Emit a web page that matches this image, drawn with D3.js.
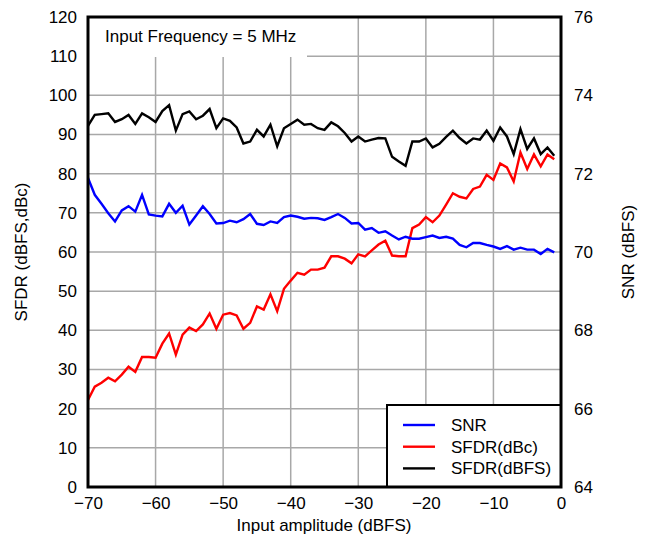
<!DOCTYPE html>
<html>
<head>
<meta charset="utf-8">
<script src="https://cdn.jsdelivr.net/npm/d3@7/dist/d3.min.js"></script>
<style>
  html, body { margin: 0; padding: 0; background: #fff; }
  svg { display: block; font-family: "Liberation Sans", Arial, sans-serif; }
</style>
</head>
<body>
<svg id="chart" width="647" height="542"></svg>
<script>
// Input amplitude (dBFS), -70 .. -1
const amplitude = d3.range(-70, 0);

const snr = [71.89, 71.46, 71.23, 70.99, 70.78, 71.06, 71.17, 71.03, 71.46, 70.96,
             70.93, 70.91, 71.23, 71.00, 71.18, 70.70, 70.93, 71.17, 70.97, 70.73,
             70.74, 70.80, 70.76, 70.84, 70.97, 70.72, 70.69, 70.78, 70.74, 70.89,
             70.93, 70.90, 70.85, 70.87, 70.86, 70.82, 70.89, 70.97, 70.87, 70.73,
             70.74, 70.57, 70.61, 70.49, 70.53, 70.42, 70.32, 70.39, 70.34, 70.34,
             70.38, 70.42, 70.36, 70.39, 70.34, 70.18, 70.12, 70.23, 70.23, 70.18,
             70.14, 70.08, 70.15, 70.06, 70.11, 70.06, 70.06, 69.95, 70.08, 69.99];

const sfdrDbc = [22.2, 25.6, 26.6, 27.9, 27.0, 28.7, 30.7, 29.4, 33.2, 33.2,
                 33.0, 36.6, 39.2, 33.8, 38.9, 40.7, 39.8, 41.5, 44.3, 40.4,
                 44.0, 44.4, 43.8, 40.4, 41.9, 46.1, 45.3, 49.2, 44.9, 50.6,
                 52.7, 54.7, 54.2, 55.5, 55.5, 56.0, 58.9, 58.9, 58.3, 57.1,
                 59.4, 58.9, 60.4, 61.9, 62.9, 59.1, 58.9, 58.9, 66.1, 67.0,
                 68.9, 67.6, 69.3, 72.1, 75.0, 74.1, 73.7, 76.1, 76.7, 79.7,
                 78.4, 82.6, 81.6, 78.0, 85.4, 81.2, 84.9, 81.9, 84.9, 83.7];

const sfdrDbfs = [92.2, 95.0, 95.2, 95.4, 93.2, 93.9, 95.0, 92.7, 95.4, 94.4,
                  93.2, 96.0, 97.5, 91.0, 95.2, 95.9, 93.9, 94.8, 96.5, 91.6,
                  94.1, 93.5, 91.8, 87.7, 88.2, 91.2, 89.5, 92.5, 87.0, 91.6,
                  92.7, 93.8, 92.5, 92.7, 91.6, 91.2, 93.1, 92.1, 90.4, 88.2,
                  89.5, 88.2, 88.7, 89.1, 89.0, 84.3, 83.1, 82.0, 88.2, 88.2,
                  89.0, 86.7, 87.6, 89.4, 91.0, 89.1, 87.7, 89.0, 88.7, 91.0,
                  88.4, 91.8, 89.5, 85.0, 91.4, 86.3, 89.0, 85.0, 86.7, 84.6];

const xTicks = [-70, -60, -50, -40, -30, -20, -10, 0];
const leftTicks = [0, 10, 20, 30, 40, 50, 60, 70, 80, 90, 100, 110, 120];
const rightTicks = [64, 66, 68, 70, 72, 74, 76];

const seriesNames = ["SNR", "SFDR(dBc)", "SFDR(dBFS)"];
const seriesColors = ["#0000ff", "#ff0000", "#000000"];

const FS = 17;
const svg = d3.select("#chart");
const L = 88, R = 561, T = 17, B = 487;

const x = d3.scaleLinear().domain([-70, 0]).range([L, R]);
const yL = d3.scaleLinear().domain([0, 120]).range([B, T]);
const yR = d3.scaleLinear().domain([64, 76]).range([B, T]);

const fmt = d => (d < 0 ? "\u2212" + Math.abs(d) : String(d));

// grid
const grid = svg.append("g");
grid.selectAll("line.v").data(xTicks.slice(1, -1)).join("line")
  .attr("x1", d => x(d)).attr("x2", d => x(d))
  .attr("y1", T).attr("y2", B)
  .attr("stroke", "#a8a8a8").attr("stroke-width", 1.5);
grid.selectAll("line.h").data(leftTicks.slice(1, -1)).join("line")
  .attr("x1", L).attr("x2", R)
  .attr("y1", d => yL(d)).attr("y2", d => yL(d))
  .attr("stroke", "#a8a8a8").attr("stroke-width", 1.5);

// annotation box (white background covering grid)
svg.append("rect").attr("x", L).attr("y", T).attr("width", 307 - L).attr("height", 57 - T)
  .attr("fill", "#fff");
svg.append("text").attr("x", 105).attr("y", 42)
  .attr("font-size", FS).attr("fill", "#000").text("Input Frequency = 5 MHz");

// lines
const lineL = d3.line().x((d, i) => x(amplitude[i])).y(d => yL(d));
const lineR = d3.line().x((d, i) => x(amplitude[i])).y(d => yR(d));

svg.append("path").datum(sfdrDbfs).attr("d", lineL)
  .attr("fill", "none").attr("stroke", seriesColors[2]).attr("stroke-width", 2.4);
svg.append("path").datum(sfdrDbc).attr("d", lineL)
  .attr("fill", "none").attr("stroke", seriesColors[1]).attr("stroke-width", 2.4);
svg.append("path").datum(snr).attr("d", lineR)
  .attr("fill", "none").attr("stroke", seriesColors[0]).attr("stroke-width", 2.4);

// axes (labels only, no tick marks)
const xAxis = d3.axisBottom(x).tickValues(xTicks).tickFormat(fmt).tickSize(0).tickPadding(10);
const gx = svg.append("g").attr("transform", `translate(0,${B})`).call(xAxis);
const gl = svg.append("g").attr("transform", `translate(${L},0)`)
  .call(d3.axisLeft(yL).tickValues(leftTicks).tickSize(0).tickPadding(11));
const gr = svg.append("g").attr("transform", `translate(${R},0)`)
  .call(d3.axisRight(yR).tickValues(rightTicks).tickSize(0).tickPadding(13));
[gx, gl, gr].forEach(g => {
  g.select(".domain").remove();
  g.selectAll("text").attr("font-size", FS).attr("fill", "#000")
    .attr("font-family", "'Liberation Sans', Arial, sans-serif");
});

// legend
const lg = svg.append("g");
lg.append("rect").attr("x", 387).attr("y", 405).attr("width", R - 387).attr("height", B - 405)
  .attr("fill", "#fff").attr("stroke", "#000").attr("stroke-width", 2);
seriesNames.forEach((n, i) => {
  const yy = 425 + i * 21.7;
  lg.append("line").attr("x1", 403).attr("x2", 435).attr("y1", yy).attr("y2", yy)
    .attr("stroke", seriesColors[i]).attr("stroke-width", 2.4);
  lg.append("text").attr("x", 451).attr("y", yy + 6).attr("font-size", FS).attr("fill", "#000").text(n);
});

// frame
svg.append("rect").attr("x", L).attr("y", T).attr("width", R - L).attr("height", B - T)
  .attr("fill", "none").attr("stroke", "#000").attr("stroke-width", 3);

// axis titles
svg.append("text").attr("x", 324).attr("y", 531).attr("text-anchor", "middle")
  .attr("font-size", FS).text("Input amplitude (dBFS)");
svg.append("text").attr("transform", `translate(27,${(T + B) / 2}) rotate(-90)`)
  .attr("text-anchor", "middle").attr("font-size", FS).text("SFDR (dBFS,dBc)");
svg.append("text").attr("transform", `translate(634,${(T + B) / 2}) rotate(-90)`)
  .attr("text-anchor", "middle").attr("font-size", FS).text("SNR (dBFS)");
</script>
</body>
</html>
